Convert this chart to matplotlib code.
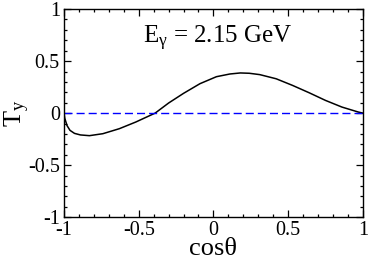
import matplotlib
matplotlib.use("Agg")
import matplotlib.pyplot as plt
from matplotlib.ticker import MultipleLocator

plt.rcParams['font.family'] = ['Liberation Serif', 'DejaVu Serif']
plt.rcParams['mathtext.fontset'] = 'custom'
plt.rcParams['mathtext.rm'] = 'Liberation Serif'
plt.rcParams['mathtext.it'] = 'Liberation Serif:italic'
plt.rcParams['axes.unicode_minus'] = False

# values
cos_theta = [-1.0, -0.995, -0.98, -0.96, -0.93, -0.89, -0.83, -0.74, -0.63, -0.52,
             -0.39, -0.30, -0.20, -0.09, 0.02, 0.11, 0.18, 0.24, 0.31, 0.42,
             0.53, 0.64, 0.75, 0.86, 0.97, 1.0]
t_y = [0.0, -0.05, -0.12, -0.166, -0.195, -0.21, -0.217, -0.198, -0.15, -0.086,
       0.0, 0.097, 0.19, 0.283, 0.35, 0.376, 0.386, 0.383, 0.37, 0.33,
       0.266, 0.196, 0.122, 0.058, 0.01, 0.0]

ticks = [-1, -0.5, 0, 0.5, 1]
tick_labels = ["-1", "-0.5", "0", "0.5", "1"]

fig = plt.figure(figsize=(3.68, 2.6), dpi=100)
ax = fig.add_axes([0.174, 0.165, 0.812, 0.8])

ax.plot(cos_theta, t_y, color='black', lw=1.1)
ax.plot([-1, 1], [0, 0], color='#0000ff', lw=1.0, dashes=(5.8, 2.9))

ax.set_xlim(-1, 1)
ax.set_ylim(-1, 1)
ax.set_xticks(ticks)
ax.set_xticklabels(tick_labels)
ax.set_yticks(ticks)
ax.set_yticklabels(tick_labels)
ax.xaxis.set_minor_locator(MultipleLocator(0.1))
ax.yaxis.set_minor_locator(MultipleLocator(0.1))
ax.tick_params(which='both', direction='in', top=True, right=True,
               labelsize=14.5, pad=3, width=0.9)
ax.tick_params(which='major', length=5)
ax.tick_params(which='minor', length=2.5)
for s in ax.spines.values():
    s.set_linewidth(1.0)

ax.set_xlabel("cosθ", fontsize=19, labelpad=-1.5)
ax.set_ylabel(r"T$_{\mathrm{y}}$", fontsize=19, labelpad=-3)
ax.text(0.03, 0.72, r"E$_{\mathrm{γ}}$ = 2.15 GeV", fontsize=18,
        ha='center', va='center')

fig.savefig("out.png", dpi=100)
